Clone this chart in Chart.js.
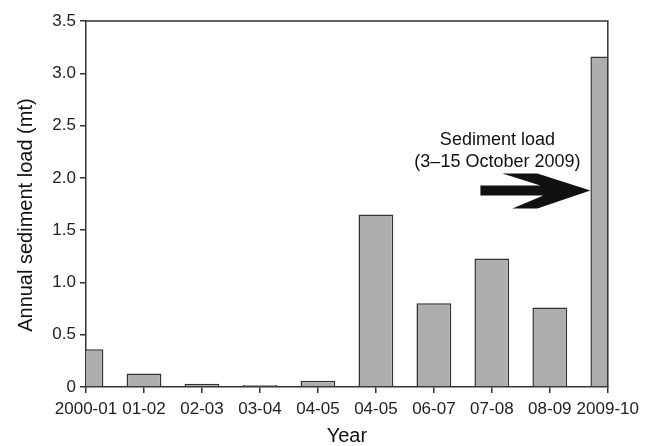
<!DOCTYPE html>
<html>
<head>
<meta charset="utf-8">
<script src="https://cdn.jsdelivr.net/npm/chart.js@4"></script>
<style>
  html, body { margin: 0; padding: 0; background: #fff; }
  #wrap { width: 645px; height: 446px; position: relative; }
</style>
</head>
<body>
<div id="wrap"><canvas id="chart"></canvas></div>
<script>
// data
const years = ['2000-01', '01-02', '02-03', '03-04', '04-05', '04-05', '06-07', '07-08', '08-09', '2009-10'];
const loads = [0.36, 0.13, 0.03, 0.02, 0.06, 1.65, 0.80, 1.23, 0.76, 3.16];
const yMin = 0, yMax = 3.5, yStep = 0.5;
const noteLines = ['Sediment load', '(3\u201315 October 2009)'];
const arrowLevel = 1.88;

const font = "'Liberation Sans', Arial, sans-serif";
const ink = '#333';

// frame on top / right + arrow and note pointing at last bar
const annotation = {
    id: 'annotation',
    afterDraw(chart) {
        const { ctx, chartArea: a, scales: { y } } = chart;
        ctx.save();
        ctx.strokeStyle = ink;
        ctx.lineWidth = 1.5;
        ctx.beginPath();
        ctx.moveTo(a.left, a.top);
        ctx.lineTo(a.right, a.top);
        ctx.lineTo(a.right, a.bottom);
        ctx.stroke();

        const meta = chart.getDatasetMeta(0);
        const last = meta.data[meta.data.length - 1];
        const tx = last.x - last.width / 2;
        const ty = y.getPixelForValue(arrowLevel);
        const pts = [[-110, -5], [-50, -5], [-88, -17], [-53, -17], [0, 0], [-53, 18], [-78, 18], [-47, 5], [-110, 5]];
        ctx.fillStyle = '#111';
        ctx.beginPath();
        pts.forEach(([dx, dy], i) => i ? ctx.lineTo(tx + dx, ty + dy) : ctx.moveTo(tx + dx, ty + dy));
        ctx.closePath();
        ctx.fill();

        ctx.font = '18px ' + font;
        ctx.textAlign = 'center';
        ctx.textBaseline = 'alphabetic';
        ctx.fillText(noteLines[0], tx - 93, ty - 45);
        ctx.fillText(noteLines[1], tx - 93, ty - 23);
        ctx.restore();
    }
};

new Chart(document.getElementById('chart'), {
    type: 'bar',
    data: {
        labels: years,
        datasets: [{
            data: loads,
            backgroundColor: '#aeaeae',
            borderColor: ink,
            borderWidth: 1.5,
            barPercentage: 0.6,
            categoryPercentage: 1,
            clip: 0
        }]
    },
    options: {
        responsive: true,
        maintainAspectRatio: false,
        animation: false,
        layout: { padding: { top: 21, right: 37, left: 0, bottom: 0 } },
        plugins: { legend: { display: false }, tooltip: { enabled: false } },
        scales: {
            x: {
                offset: false,
                grid: { offset: false, drawOnChartArea: false, tickLength: 6, color: ink, lineWidth: 1.5 },
                border: { color: ink, width: 1.5 },
                ticks: { color: '#222', font: { family: font, size: 17 }, padding: 6, maxRotation: 0, autoSkip: false },
                title: { display: true, text: 'Year', color: '#111', font: { family: font, size: 20, lineHeight: 1 }, padding: 0 },
                afterFit: s => { s.height = 59; }
            },
            y: {
                min: yMin,
                max: yMax,
                grid: { drawOnChartArea: false, tickLength: 6, color: ink, lineWidth: 1.5 },
                border: { color: ink, width: 1.5 },
                ticks: {
                    stepSize: yStep,
                    color: '#222',
                    padding: 4,
                    font: { family: font, size: 17 },
                    callback: v => v === 0 ? '0' : v.toFixed(1)
                },
                // trailing spaces nudge the rotated title a little lower, as in the figure
                title: { display: true, text: 'Annual sediment load (mt)\u00a0\u00a0\u00a0\u00a0', color: '#111', font: { family: font, size: 20 }, padding: { top: 14 } },
                afterFit: s => { s.width = 86; }
            }
        }
    },
    plugins: [annotation]
});
</script>
</body>
</html>
